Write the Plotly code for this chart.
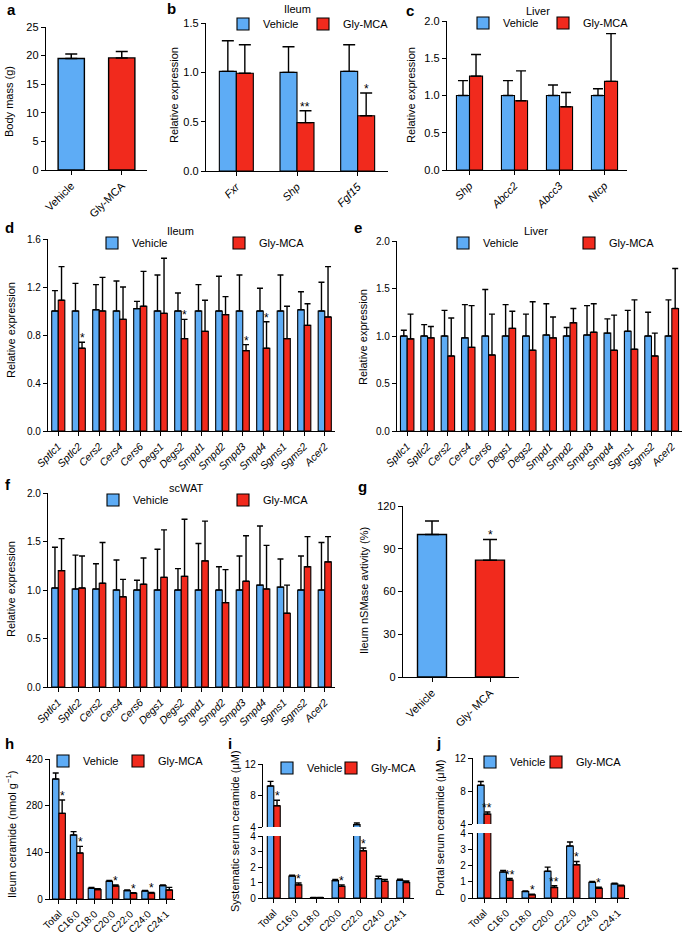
import plotly.graph_objects as go

W, H = 685, 934
BLUE = "#5eacf5"
RED = "#f12a1d"
FONT = "Liberation Sans, Arial, Helvetica, sans-serif"

# a - body mass
a_groups = ["Vehicle", "Gly-MCA"]
a_mass = [19.5, 19.6]
a_sem = [0.8, 1.1]

# b - ileum FXR targets
b_genes = ["Fxr", "Shp", "Fgf15"]
b_veh = [1.01, 1.0, 1.01]
b_veh_sem = [0.31, 0.26, 0.27]
b_gly = [0.99, 0.49, 0.56]
b_gly_sem = [0.29, 0.12, 0.23]
b_sig = ["", "**", "*"]

# c - liver
c_genes = ["Shp", "Abcc2", "Abcc3", "Ntcp"]
c_veh = [1.0, 1.0, 1.0, 1.0]
c_veh_sem = [0.2, 0.2, 0.14, 0.09]
c_gly = [1.26, 0.93, 0.85, 1.19]
c_gly_sem = [0.29, 0.4, 0.19, 0.64]

# d/e/f - ceramide pathway genes
genes = ["Sptlc1", "Sptlc2", "Cers2", "Cers4", "Cers6", "Degs1", "Degs2",
         "Smpd1", "Smpd2", "Smpd3", "Smpd4", "Sgms1", "Sgms2", "Acer2"]

d_veh = [1.0, 1.0, 1.01, 1.0, 1.02, 1.0, 1.0, 1.0, 1.0, 1.0, 1.0, 1.0, 1.01, 1.0]
d_veh_sem = [0.17, 0.23, 0.21, 0.25, 0.06, 0.30, 0.15, 0.22, 0.29, 0.30, 0.19, 0.30, 0.15, 0.24]
d_gly = [1.09, 0.69, 1.0, 0.93, 1.04, 0.98, 0.77, 0.83, 0.97, 0.67, 0.69, 0.77, 0.88, 0.95]
d_gly_sem = [0.28, 0.05, 0.28, 0.27, 0.29, 0.46, 0.16, 0.26, 0.15, 0.05, 0.22, 0.27, 0.18, 0.42]
d_sig = ["", "*", "", "", "", "", "*", "", "", "*", "*", "", "", ""]

e_veh = [1.0, 1.0, 1.0, 0.98, 1.0, 1.0, 1.0, 1.01, 1.0, 1.01, 1.03, 1.05, 1.0, 1.0]
e_veh_sem = [0.06, 0.12, 0.27, 0.35, 0.49, 0.33, 0.23, 0.33, 0.09, 0.31, 0.15, 0.22, 0.25, 0.38]
e_gly = [0.97, 0.98, 0.79, 0.88, 0.80, 1.08, 0.85, 0.98, 1.14, 1.04, 0.85, 0.86, 0.79, 1.29]
e_gly_sem = [0.26, 0.12, 0.40, 0.44, 0.43, 0.18, 0.51, 0.22, 0.15, 0.30, 0.37, 0.52, 0.24, 0.42]

f_veh = [1.02, 1.01, 1.01, 1.0, 1.0, 1.0, 1.0, 1.0, 1.0, 1.0, 1.05, 1.03, 1.0, 1.0]
f_veh_sem = [0.42, 0.35, 0.26, 0.31, 0.10, 0.42, 0.22, 0.48, 0.24, 0.35, 0.61, 0.29, 0.35, 0.49]
f_gly = [1.20, 1.02, 1.07, 0.93, 1.06, 1.13, 1.14, 1.30, 0.87, 1.09, 1.01, 0.76, 1.24, 1.29]
f_gly_sem = [0.33, 0.33, 0.42, 0.18, 0.27, 0.49, 0.59, 0.41, 0.34, 0.47, 0.45, 0.29, 0.31, 0.26]

# g - nSMase activity
g_groups = ["Vehicle", "Gly- MCA"]
g_act = [100, 82]
g_sem = [9.5, 14.5]
g_sig = ["", "*"]

# h/i/j - ceramide species
lipids = ["Total", "C16:0", "C18:0", "C20:0", "C22:0", "C24:0", "C24:1"]

h_veh = [360, 192, 32, 53, 25, 24, 40]
h_veh_sem = [18, 10, 3, 3, 2, 2, 2]
h_gly = [257, 138, 28, 39, 17, 18, 27]
h_gly_sem = [40, 20, 3, 3, 2, 2, 8]
h_sig = ["*", "*", "", "*", "*", "*", ""]

i_veh = [9.2, 1.42, 0.03, 1.12, 4.3, 1.25, 1.15]
i_veh_sem = [0.6, 0.05, 0.01, 0.08, 0.2, 0.15, 0.06]
i_gly = [6.7, 0.85, 0.03, 0.75, 3.05, 1.08, 1.0]
i_gly_sem = [0.7, 0.12, 0.01, 0.1, 0.18, 0.12, 0.1]
i_sig = ["*", "*", "", "*", "*", "", ""]

j_veh = [8.7, 1.6, 0.4, 1.65, 3.2, 0.97, 0.87]
j_veh_sem = [0.45, 0.1, 0.04, 0.25, 0.25, 0.05, 0.04]
j_gly = [5.2, 1.1, 0.2, 0.65, 2.05, 0.6, 0.75]
j_gly_sem = [0.25, 0.1, 0.03, 0.1, 0.2, 0.07, 0.04]
j_sig = ["**", "**", "*", "**", "*", "*", ""]


fig = go.Figure()
layout = {}


def xr(n):
    return "x" if n == 1 else f"x{n}"


def yr(n):
    return "y" if n == 1 else f"y{n}"


def fx(p):
    return p / W


def fy(p):
    return 1 - p / H


def axes(n, x0, x1, y0, y1, yrange, yticks, fmt="", size=10, xsize=None, italic=False,
         showx=True):
    line = dict(showline=True, linecolor="black", linewidth=1.4, ticks="outside", ticklen=4,
                tickwidth=1.2, tickcolor="black", showgrid=False, zeroline=False, fixedrange=True)
    layout["xaxis" if n == 1 else f"xaxis{n}"] = dict(
        domain=[fx(x0), fx(x1)], anchor=yr(n), tickangle=-45, visible=showx,
        tickfont=dict(size=xsize or size, style="italic" if italic else "normal"), **line)
    layout["yaxis" if n == 1 else f"yaxis{n}"] = dict(
        domain=[fy(y1), fy(y0)], anchor=xr(n), range=yrange, tickvals=yticks,
        tickformat=fmt, tickfont=dict(size=size), **line)


def pair(n, cats, veh, veh_sem, gly, gly_sem, w, legend, gap=80, show=True, cap=3):
    for name, vals, sem, col, off, lw in (("Vehicle", veh, veh_sem, BLUE, -w, gap - 45),
                                          ("Gly-MCA", gly, gly_sem, RED, 0, 52)):
        fig.add_trace(go.Bar(
            x=cats, y=vals, name=name, width=w, offset=off, xaxis=xr(n), yaxis=yr(n),
            marker=dict(color=col, line=dict(color="black", width=1.1)),
            error_y=dict(type="data", array=sem, arrayminus=[0] * len(sem), symmetric=False,
                         color="black", thickness=1.4, width=cap),
            legend=legend, legendwidth=lw, showlegend=show))


def single(n, cats, vals, sem, w, cap=6):
    fig.add_trace(go.Bar(
        x=cats, y=vals, width=w, xaxis=xr(n), yaxis=yr(n), showlegend=False,
        marker=dict(color=[BLUE, RED], line=dict(color="black", width=1.4)),
        error_y=dict(type="data", array=sem, arrayminus=[0] * len(sem), symmetric=False,
                     color="black", thickness=1.5, width=cap)))


def stars(n, cats, vals, sems, sigs, shift, top_n=None, split=None):
    for c, v, s, sig in zip(cats, vals, sems, sigs):
        if not sig:
            continue
        top = v + s
        k = top_n if (split is not None and top > split) else n
        fig.add_annotation(x=c, y=top, xref=xr(k), yref=yr(k), text=sig, showarrow=False,
                           xshift=shift, yanchor="bottom", yshift=-5,
                           font=dict(size=12, color="black"))


def legend_cfg(sq_x, row_y):
    return dict(x=fx(sq_x - 10), y=fy(row_y), xanchor="left", yanchor="middle",
                orientation="h", font=dict(size=11, color="black", family=FONT),
                bgcolor="rgba(0,0,0,0)", borderwidth=0, itemclick=False,
                itemdoubleclick=False)


def text(x, y, s, size=11, bold=False, angle=0):
    fig.add_annotation(x=fx(x), y=fy(y), xref="paper", yref="paper", text=s, showarrow=False,
                       textangle=angle, xanchor="center", yanchor="middle",
                       font=dict(size=size, color="black",
                                 weight="bold" if bold else "normal"))


# a
axes(1, 46, 147, 27, 170, [0, 25], [0, 5, 10, 15, 20, 25], size=11)
single(1, a_groups, a_mass, a_sem, 0.52)

# b
axes(2, 206, 388, 23, 171, [0, 1.5], [0, 0.5, 1.0, 1.5], ".1f", size=11, italic=True)
pair(2, b_genes, b_veh, b_veh_sem, b_gly, b_gly_sem, 0.28, "legend", gap=80, cap=6)
stars(2, b_genes, b_gly, b_gly_sem, b_sig, 182 / 3 * 0.14)

# c
axes(3, 447, 627, 21, 170, [0, 2], [0, 0.5, 1.0, 1.5, 2.0], ".1f", size=11, italic=True)
pair(3, c_genes, c_veh, c_veh_sem, c_gly, c_gly_sem, 0.29, "legend2", gap=80, cap=5)

# d
axes(4, 48, 335, 239, 431, [0, 1.6], [0, 0.4, 0.8, 1.2, 1.6], ".1f", xsize=10.5, italic=True)
pair(4, genes, d_veh, d_veh_sem, d_gly, d_gly_sem, 0.32, "legend3", gap=127)
stars(4, genes, d_gly, d_gly_sem, d_sig, 287 / 14 * 0.16)

# e
axes(5, 397, 682, 241, 431, [0, 2], [0, 0.5, 1.0, 1.5, 2.0], ".1f", xsize=10.5, italic=True)
pair(5, genes, e_veh, e_veh_sem, e_gly, e_gly_sem, 0.33, "legend4", gap=126)

# f
axes(6, 48, 335, 493, 687, [0, 2], [0, 0.5, 1.0, 1.5, 2.0], ".1f", xsize=10.5, italic=True)
pair(6, genes, f_veh, f_veh_sem, f_gly, f_gly_sem, 0.32, "legend5", gap=130)

# g
axes(7, 403, 519, 506, 677, [0, 120], [0, 30, 60, 90, 120], size=11)
single(7, g_groups, g_act, g_sem, 0.5, cap=7)
stars(7, g_groups, g_act, g_sem, g_sig, 0)

# h
axes(8, 50, 175, 759, 899, [0, 420], [0, 140, 280, 420])
pair(8, lipids, h_veh, h_veh_sem, h_gly, h_gly_sem, 0.36, "legend6", gap=75)
stars(8, lipids, h_gly, h_gly_sem, h_sig, 125 / 7 * 0.18)

# i (broken axis)
axes(9, 263, 414, 836, 898, [0, 4], [0, 1, 2, 3, 4])
axes(10, 263, 414, 764, 827, [4, 12], [4, 8, 12], showx=False)
pair(9, lipids, i_veh, i_veh_sem, i_gly, i_gly_sem, 0.3, "legend7", gap=64)
pair(10, lipids, i_veh, i_veh_sem, i_gly, i_gly_sem, 0.3, "legend7", show=False)
stars(9, lipids, i_gly, i_gly_sem, i_sig, 151 / 7 * 0.15, top_n=10, split=4)

# j (broken axis)
axes(11, 473, 629, 833, 898, [0, 4], [0, 1, 2, 3, 4])
axes(12, 473, 629, 758, 824, [4, 12], [4, 8, 12], showx=False)
pair(11, lipids, j_veh, j_veh_sem, j_gly, j_gly_sem, 0.3, "legend8", gap=66)
pair(12, lipids, j_veh, j_veh_sem, j_gly, j_gly_sem, 0.3, "legend8", show=False)
stars(11, lipids, j_gly, j_gly_sem, j_sig, 156 / 7 * 0.15, top_n=12, split=4)

# panel letters
for s, x, y in [("a", 11, 10), ("b", 171, 9), ("c", 410, 11), ("d", 9, 227), ("e", 358, 227),
                ("f", 8, 484), ("g", 362, 486), ("h", 9, 743), ("i", 230, 743), ("j", 438, 742)]:
    text(x, y, s, size=15, bold=True)

# tissue titles
for s, x, y in [("Ileum", 297, 9), ("Liver", 538, 11), ("Ileum", 180, 231),
                ("Liver", 536, 231), ("scWAT", 186, 488)]:
    text(x, y, s)

# y-axis titles
for s, x, y in [("Body mass (g)", 9, 102), ("Relative expression", 174, 95),
                ("Relative expression", 411, 95), ("Relative expression", 11, 330),
                ("Relative expression", 363, 337), ("Relative expression", 11, 589),
                ("Ileum nSMase avtivity (%)", 364, 591),
                ("Ileum ceramide (nmol g<sup>−1</sup>)", 11, 835),
                ("Systematic serum ceramide (μM)", 235, 831),
                ("Portal serum ceramide (μM)", 440, 828)]:
    text(x, y, s, angle=-90)

layout["legend"] = legend_cfg(233, 24)
layout["legend2"] = legend_cfg(473, 23)
layout["legend3"] = legend_cfg(102, 243)
layout["legend4"] = legend_cfg(453, 243)
layout["legend5"] = legend_cfg(103, 500)
layout["legend6"] = legend_cfg(53, 761)
layout["legend7"] = legend_cfg(277, 768)
layout["legend8"] = legend_cfg(480, 762)

fig.update_layout(
    width=W, height=H, margin=dict(l=0, r=0, t=0, b=0, autoexpand=False),
    paper_bgcolor="white", plot_bgcolor="white",
    font=dict(family=FONT, size=11, color="black"),
    barmode="overlay",
    **layout,
)

# drop the default body margin so the figure fills the window exactly
fig.write_html("out.html", config={"displayModeBar": False},
               post_script="document.body.style.margin = '0';")
